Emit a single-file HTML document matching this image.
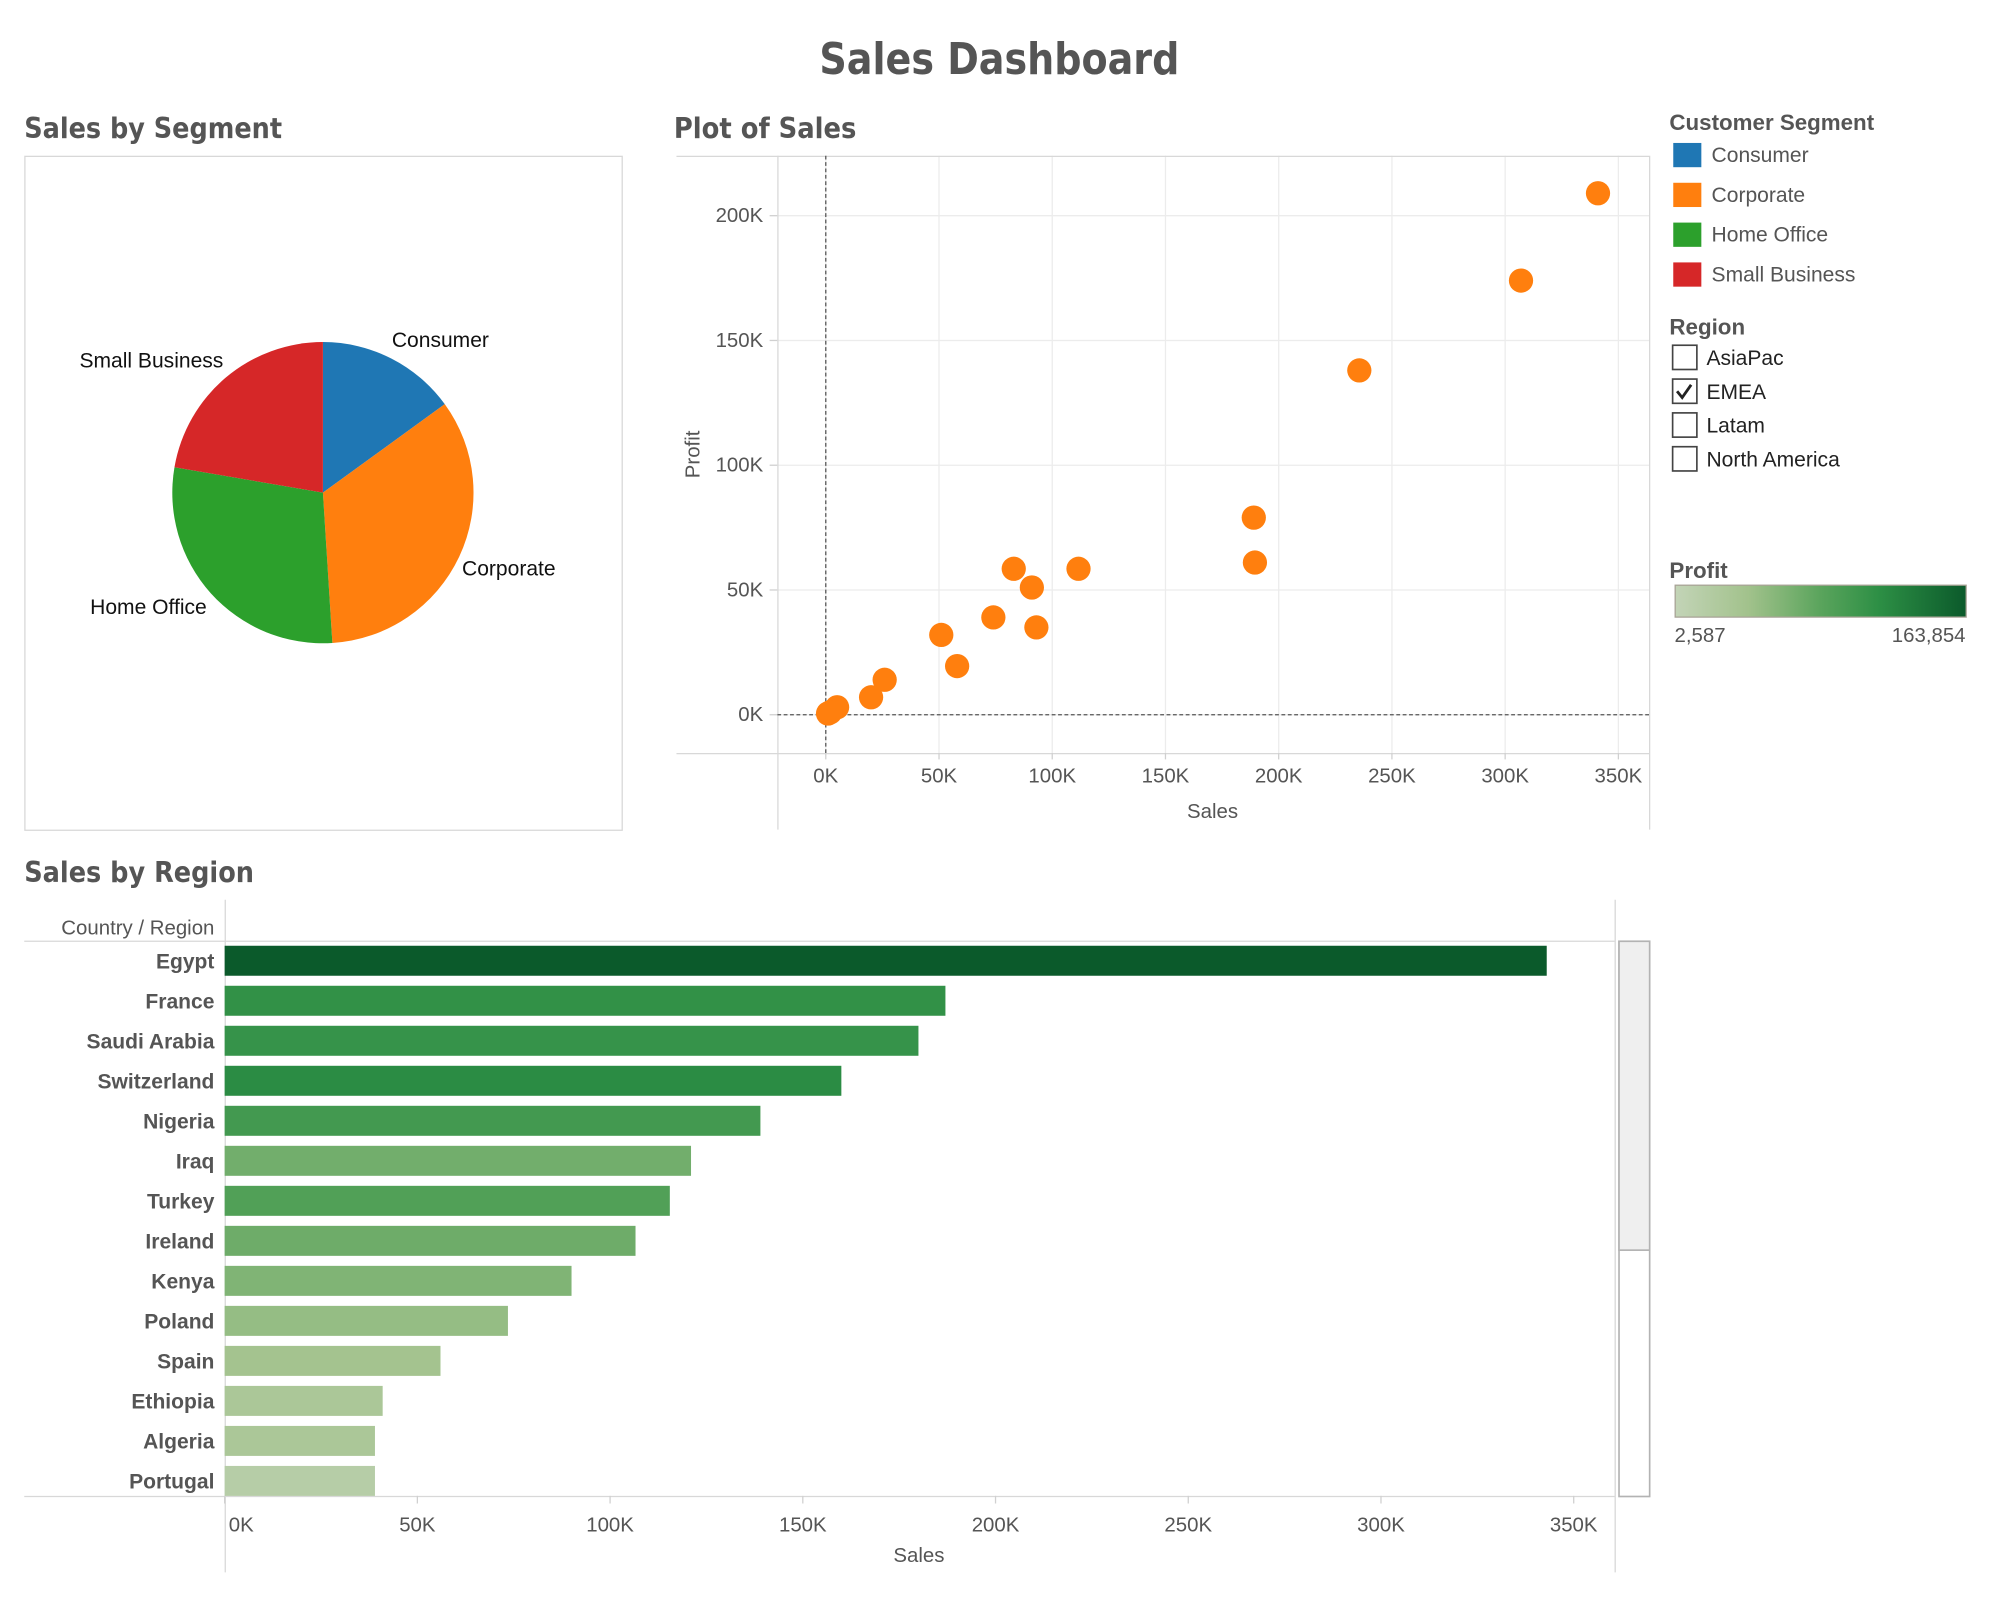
<!DOCTYPE html>
<html><head><meta charset="utf-8"><style>
html,body{margin:0;padding:0;background:#fff;}
svg{display:block;}
text{font-family:"Liberation Sans",sans-serif;}
.hd{font-family:"DejaVu Sans Condensed","DejaVu Sans","Liberation Sans",sans-serif;font-weight:bold;font-stretch:condensed;fill:#555;}
.tk{font-size:16px;fill:#555;}
</style></head><body>
<svg id="root" width="2000" height="1600" viewBox="0 0 1567 1253.6" xmlns="http://www.w3.org/2000/svg">
<text class="hd" x="783" y="58" font-size="34" text-anchor="middle" textLength="282" lengthAdjust="spacingAndGlyphs">Sales Dashboard</text>
<text class="hd" x="19" y="108" font-size="22" textLength="202" lengthAdjust="spacingAndGlyphs">Sales by Segment</text>
<text class="hd" x="528" y="108" font-size="22" textLength="143" lengthAdjust="spacingAndGlyphs">Plot of Sales</text>
<text class="hd" x="19" y="691" font-size="22" textLength="180" lengthAdjust="spacingAndGlyphs">Sales by Region</text>

<rect x="19.5" y="122.5" width="468" height="528" fill="none" stroke="#d8d8d8"/>
<g id="pie"></g>

<g id="scatter"></g>
<g id="bars"></g>

<g>
<text x="1308" y="102" font-size="17.5" font-weight="bold" fill="#555">Customer Segment</text>
<g id="seglegend"></g>
<text x="1308" y="262" font-size="17.5" font-weight="bold" fill="#555">Region</text>
<g id="regfilter"></g>
<text x="1308" y="453" font-size="17.5" font-weight="bold" fill="#555">Profit</text>
<defs><linearGradient id="pg" x1="0" x2="1" y1="0" y2="0">
<stop offset="0" stop-color="#c3d4b7"/><stop offset="0.25" stop-color="#a2c28c"/><stop offset="0.5" stop-color="#5aa45c"/><stop offset="0.7" stop-color="#2d8f45"/><stop offset="1" stop-color="#0b5a2b"/></linearGradient></defs>
<rect x="1312.5" y="458.5" width="228" height="25" fill="url(#pg)" stroke="#a8a396"/>
<text x="1312" y="503" class="tk">2,587</text>
<text x="1540" y="503" class="tk" text-anchor="end">163,854</text>
</g>
</svg>
<script>
const NS="http://www.w3.org/2000/svg";
function mk(p,t,a,txt){const e=document.createElementNS(NS,t);for(const k in a)e.setAttribute(k,a[k]);if(txt!=null)e.textContent=txt;p.appendChild(e);return e;}

// ---------- Pie data ----------
const segments=["Consumer","Corporate","Home Office","Small Business"];
const segmentSales=[15.0,34.0,28.7,22.3];
const segmentColors=["#1f77b4","#ff7f0e","#2ca02c","#d62728"];

// ---------- Scatter data ----------
const scatterSales=[341,307,235.6,189,189.5,111.6,83,91,93,74,51,58,26,20,5,1,2];
const scatterProfit=[209,174,138,79,61,58.5,58.5,51,35,39,32,19.5,14,7,3,0.5,1];
const scatterXTicks=[0,50,100,150,200,250,300,350];
const scatterYTicks=[0,50,100,150,200];

// ---------- Bar data ----------
const countries=["Egypt","France","Saudi Arabia","Switzerland","Nigeria","Iraq","Turkey","Ireland","Kenya","Poland","Spain","Ethiopia","Algeria","Portugal"];
const countrySales=[343,187,180,160,139,121,115.5,106.6,90,73.5,56,41,39,39];
const countryProfit=[163.8,112,109,118,100,70,90,72,62,50,40,32,32,18];
const barXTicks=[0,50,100,150,200,250,300,350];
const profitMin=2.587, profitMax=163.854;

// ---------- Pie ----------
(function(){
  const g=document.getElementById('pie');
  const cx=253,cy=386,r=118;
  const tot=segmentSales.reduce((a,b)=>a+b,0);
  let a0=0;
  const labelPos=[[307,272,"start"],[362,451,"start"],[162,481,"end"],[175,288,"end"]];
  segmentSales.forEach((v,i)=>{
    const a1=a0+v/tot*2*Math.PI;
    const x0=cx+r*Math.sin(a0),y0=cy-r*Math.cos(a0),x1=cx+r*Math.sin(a1),y1=cy-r*Math.cos(a1);
    const p=mk(g,'path',{d:`M${cx},${cy}L${x0},${y0}A${r},${r} 0 ${a1-a0>Math.PI?1:0} 1 ${x1},${y1}Z`,fill:segmentColors[i]});
    
    
    const lp=labelPos[i];
    const t=mk(g,'text',{x:lp[0],y:lp[1],'font-size':16.5,fill:'#111','text-anchor':lp[2]},segments[i]);
    
    
    a0=a1;
  });
})();

// ---------- Scatter ----------
(function(){
  const g=document.getElementById('scatter');
  const X=v=>647+v*(621/350), Y=v=>560-v*(391/200);
  const L=609,R=1292,T=122,B=590;
  scatterXTicks.forEach(v=>{const l=mk(g,'line',{x1:X(v),x2:X(v),y1:T,y2:B,stroke:'#ececec'});});
  scatterYTicks.forEach(v=>{const l=mk(g,'line',{x1:L,x2:R,y1:Y(v),y2:Y(v),stroke:'#ececec'});});
  mk(g,'line',{x1:530,x2:R,y1:T+0.5,y2:T+0.5,stroke:'#d8d8d8'});
  mk(g,'line',{x1:530,x2:R,y1:B+0.5,y2:B+0.5,stroke:'#d8d8d8'});
  mk(g,'line',{x1:L+0.5,x2:L+0.5,y1:T,y2:650,stroke:'#d8d8d8'});
  mk(g,'line',{x1:R+0.5,x2:R+0.5,y1:T,y2:650,stroke:'#d8d8d8'});
  mk(g,'line',{x1:X(0),x2:X(0),y1:T,y2:B,stroke:'#555','stroke-dasharray':'3,2'});
  mk(g,'line',{x1:L,x2:R,y1:Y(0),y2:Y(0),stroke:'#555','stroke-dasharray':'3,2'});
  scatterXTicks.forEach(v=>{
    mk(g,'line',{x1:X(v),x2:X(v),y1:B,y2:B+5,stroke:'#d0d0d0'});
    const t=mk(g,'text',{x:X(v),y:613,'text-anchor':'middle',class:'tk'},v+'K');
    
  });
  scatterYTicks.forEach(v=>{
    mk(g,'line',{x1:L-6,x2:L,y1:Y(v),y2:Y(v),stroke:'#d0d0d0'});
    const t=mk(g,'text',{x:598,y:Y(v)+5,'text-anchor':'end',class:'tk'},v+'K');
    
  });
  const xt=mk(g,'text',{x:950,y:641,'text-anchor':'middle',class:'tk'},'Sales');
  
  const yt=mk(g,'text',{x:548,y:356,'text-anchor':'middle',class:'tk',transform:'rotate(-90 548 356)'},'Profit');
  
  scatterSales.forEach((s,i)=>{
    const c=mk(g,'ellipse',{cx:X(s),cy:Y(scatterProfit[i]),rx:9.5,ry:9.5,fill:'#ff7f0e'});
    
    
  });
})();

// ---------- Bars ----------
function profitColor(p){
  const stops=[[0,[195,212,183]],[0.25,[162,194,140]],[0.5,[90,164,92]],[0.7,[45,143,69]],[1,[11,90,43]]];
  let f=(p-profitMin)/(profitMax-profitMin);f=Math.max(0,Math.min(1,f));
  for(let i=1;i<stops.length;i++){if(f<=stops[i][0]){const a=stops[i-1],b=stops[i];const t=(f-a[0])/(b[0]-a[0]);return 'rgb('+a[1].map((c,k)=>Math.round(c+(b[1][k]-c)*t)).join(',')+')';}}
  return 'rgb(11,90,43)';
}
(function(){
  const g=document.getElementById('bars');
  const X=v=>176+v*(151/50);
  const rowTop=741,pitch=31.35,bh=23.5;
  mk(g,'line',{x1:176.5,x2:176.5,y1:705,y2:1232,stroke:'#d8d8d8'});
  mk(g,'line',{x1:1265.5,x2:1265.5,y1:705,y2:1232,stroke:'#d8d8d8'});
  mk(g,'line',{x1:19,x2:1265,y1:737.5,y2:737.5,stroke:'#d8d8d8'});
  mk(g,'line',{x1:19,x2:1265,y1:1172.5,y2:1172.5,stroke:'#d8d8d8'});
  const h=mk(g,'text',{x:168,y:732,'text-anchor':'end',class:'tk'},'Country / Region');
  
  countries.forEach((c,i)=>{
    const y=rowTop+i*pitch;
    const r=mk(g,'rect',{x:X(0),y:y,width:X(countrySales[i])-X(0),height:bh,fill:profitColor(countryProfit[i])});
    
    
    const t=mk(g,'text',{x:168,y:y+bh/2+6,'text-anchor':'end','font-size':16.5,'font-weight':'bold',fill:'#555'},c);
    
  });
  barXTicks.forEach(v=>{
    mk(g,'line',{x1:X(v),x2:X(v),y1:1172,y2:1178,stroke:'#d0d0d0'});
    const t=mk(g,'text',{x:v===0?189:X(v),y:1200,'text-anchor':'middle',class:'tk'},v+'K');
    
  });
  const xt=mk(g,'text',{x:720,y:1224,'text-anchor':'middle',class:'tk'},'Sales');
  
  const sb=mk(g,'rect',{x:1268.5,y:737.5,width:24,height:435,fill:'#fff',stroke:'#b3b3b3','stroke-width':1.3});
  
  const th=mk(g,'rect',{x:1268.5,y:737.5,width:24,height:242,fill:'#efefef',stroke:'#b3b3b3','stroke-width':1.3});
  
})();

// ---------- Legends ----------
(function(){
  const g=document.getElementById('seglegend');
  segments.forEach((s,i)=>{
    const y=112+i*31.2;
    const r=mk(g,'rect',{x:1311,y:y,width:22,height:19,fill:segmentColors[i]});
    
    const t=mk(g,'text',{x:1341,y:y+15,'font-size':16.5,fill:'#555'},s);
    
  });
  const f=document.getElementById('regfilter');
  const regions=["AsiaPac","EMEA","Latam","North America"];
  regions.forEach((s,i)=>{
    const y=270+i*26.5;
    const b=mk(f,'rect',{x:1310.5,y:y+0.5,width:19,height:19,fill:'#fff',stroke:'#444','stroke-width':1.3});
    
    if(s==='EMEA'){const c=mk(f,'path',{d:`M${1314},${y+10}l4,5l7,-10`,fill:'none',stroke:'#222','stroke-width':2.2});}
    const t=mk(f,'text',{x:1337,y:y+16,'font-size':16.5,fill:'#222'},s);
    
  });
})();
</script>
</body></html>
